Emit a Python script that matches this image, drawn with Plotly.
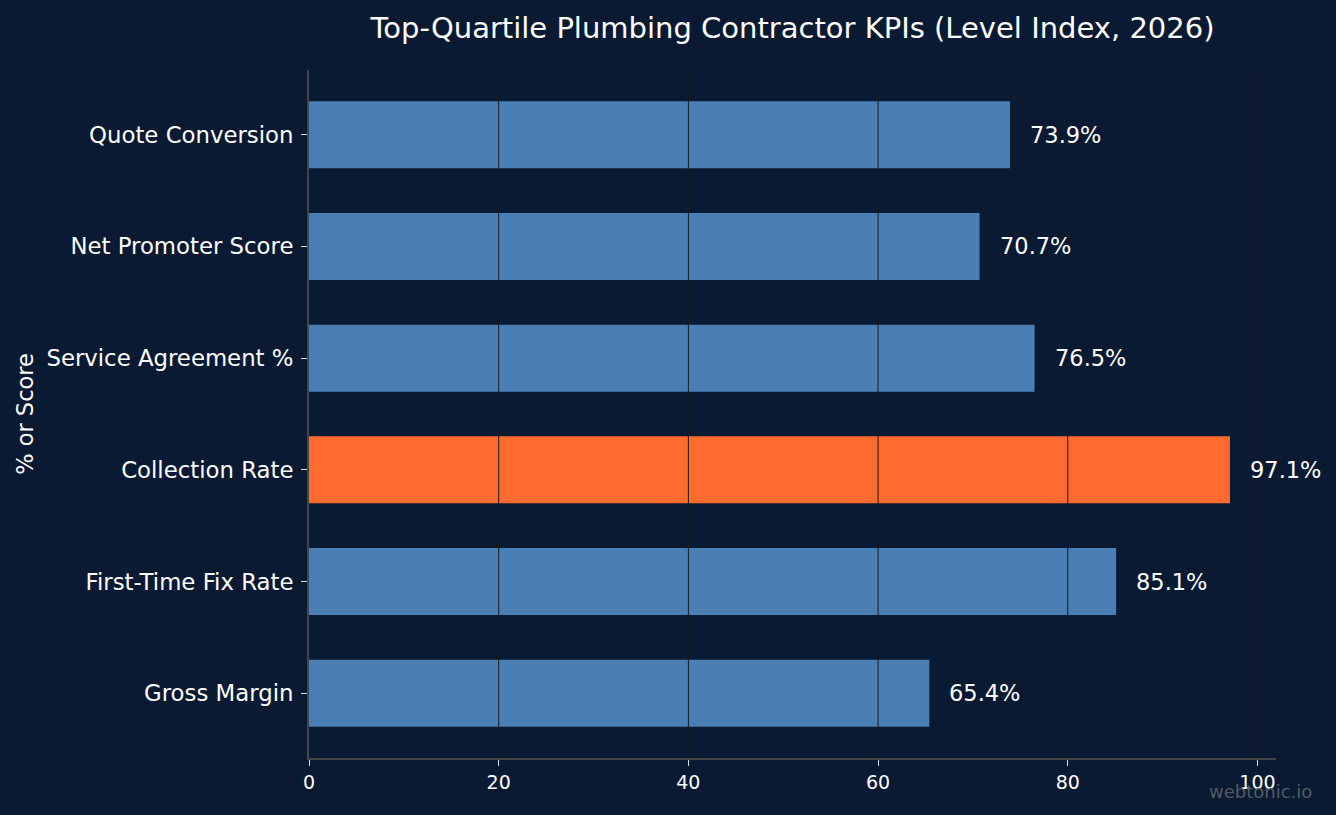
import plotly.graph_objects as go

categories = ["Gross Margin", "First-Time Fix Rate", "Collection Rate",
              "Service Agreement %", "Net Promoter Score", "Quote Conversion"]
values = [65.4, 85.1, 97.1, 76.5, 70.7, 73.9]
highlight = "Collection Rate"
x_ticks = [0, 20, 40, 60, 80, 100]

BG = "#0b1a33"
BLUE = "#4a7fb5"
ORANGE = "#ff6b2e"
FONT = "DejaVu Sans"

colors = [ORANGE if c == highlight else BLUE for c in categories]

fig = go.Figure()
fig.add_trace(go.Bar(
    y=categories, x=values, orientation="h",
    marker=dict(color=colors, line=dict(width=0)),
    width=0.6, hoverinfo="skip",
))

# vertical grid lines drawn above the bars (as in the reference)
for t in x_ticks[1:]:
    fig.add_shape(type="line", xref="x", yref="paper", x0=t, x1=t, y0=0, y1=1,
                  line=dict(color="#1a1a1a", width=1), layer="above")

for c, v in zip(categories, values):
    fig.add_annotation(x=v, y=c, text=f"{v:.1f}%", showarrow=False,
                       xanchor="left", yanchor="middle", xshift=18,
                       font=dict(family=FONT, size=22.5, color="white"))

fig.add_annotation(text="webtonic.io", xref="paper", yref="paper",
                   x=1.0, y=0, xanchor="right", yanchor="middle",
                   xshift=38, yshift=-33, showarrow=False,
                   font=dict(family=FONT, size=18, color="#555a60"))

fig.update_layout(
    width=1336, height=815,
    paper_bgcolor=BG, plot_bgcolor=BG,
    margin=dict(l=309, r=60, t=70, b=57),
    showlegend=False,
    bargap=0.4,
    title=dict(text="Top-Quartile Plumbing Contractor KPIs (Level Index, 2026)",
               x=0.5, xref="paper", xanchor="center", y=0.966, yanchor="middle",
               font=dict(family=FONT, size=29, color="white")),
    font=dict(family=FONT, color="white"),
)

fig.update_xaxes(
    range=[0, 101.955], tickvals=x_ticks, ticktext=[str(t) for t in x_ticks],
    showgrid=False, zeroline=False,
    showline=True, linecolor="#444444", linewidth=2,
    ticks="outside", ticklen=6, tickcolor="#dddddd", tickwidth=1,
    tickfont=dict(family=FONT, size=19, color="white"),
)
fig.update_yaxes(
    categoryorder="array", categoryarray=categories,
    range=[-0.58, 5.58],
    showgrid=False, zeroline=False,
    showline=True, linecolor="#444444", linewidth=2,
    ticks="outside", ticklen=6, tickcolor="#dddddd", tickwidth=1,
    ticklabelstandoff=3,
    tickfont=dict(family=FONT, size=22.8, color="white"),
    title=dict(text="% or Score", font=dict(family=FONT, size=22.5, color="white"), standoff=7),
)

fig.write_html("out.html")
